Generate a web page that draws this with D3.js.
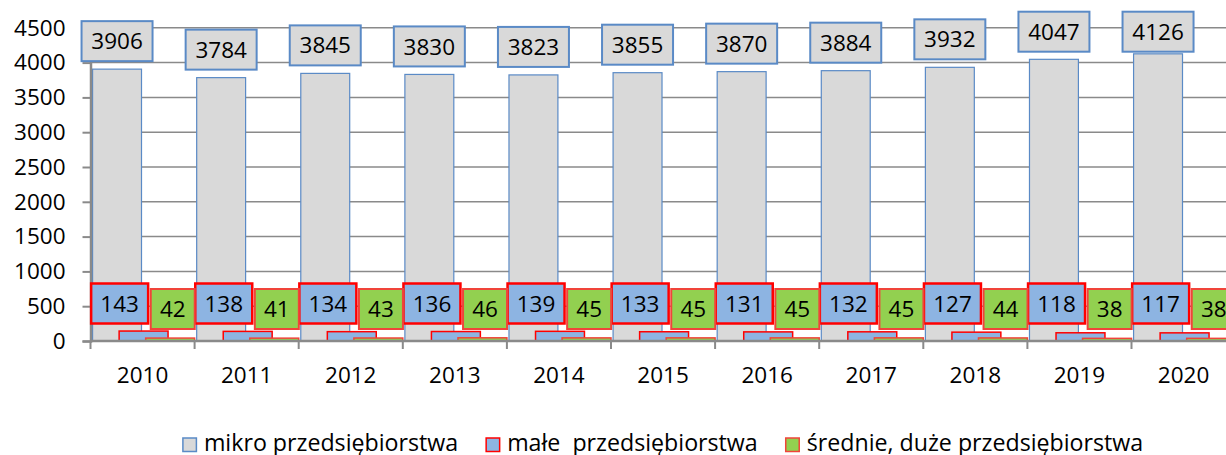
<!DOCTYPE html>
<html>
<head>
<meta charset="utf-8">
<script src="https://cdn.jsdelivr.net/npm/d3@7"></script>
<style>
  html, body { margin: 0; padding: 0; background: #fff; }
  svg { display: block; font-family: "Open Sans", "Noto Sans", sans-serif; }
</style>
</head>
<body>
<svg></svg>
<script>
// Chart size
const width = 1226;
const height = 455;

// Data
const years = ["2010", "2011", "2012", "2013", "2014", "2015", "2016", "2017", "2018", "2019", "2020"];
const mikro = [3906, 3784, 3845, 3830, 3823, 3855, 3870, 3884, 3932, 4047, 4126];
const male = [143, 138, 134, 136, 139, 133, 131, 132, 127, 118, 117];
const srednie = [42, 41, 43, 46, 45, 45, 45, 45, 44, 38, 38];
const seriesNames = ["mikro przedsiębiorstwa", "małe  przedsiębiorstwa", "średnie, duże przedsiębiorstwa"];
const yTicks = [0, 500, 1000, 1500, 2000, 2500, 3000, 3500, 4000, 4500];

// Colours
const fills = ["#d9d9d9", "#8db4e2", "#92d050"];
const strokes = ["#5a8ac6", "#ff0000", "#f0443a"];
const gridColor = "#8a8a8a";
const fontSize = 22.5;

const svg = d3.select("svg")
    .attr("width", width)
    .attr("height", height);

// Scales
const x = d3.scaleBand()
    .domain(years)
    .range([90.5, 90.5 + 104.1 * years.length])
    .padding(0);
const bw = x.bandwidth();

const y = d3.scaleLinear()
    .domain([0, 4500])
    .range([341, 27.8]);

// Bars are overlapping inside each category
const barW = bw * 0.47;
const barOffset = i => bw * (0.02 + i * 0.255);

// Grid lines
svg.append("g")
    .selectAll("line")
    .data(yTicks.filter(d => d > 0))
    .enter()
    .append("line")
    .attr("x1", x.range()[0])
    .attr("x2", width)
    .attr("y1", d => y(d))
    .attr("y2", d => y(d))
    .attr("stroke", gridColor)
    .attr("stroke-width", 1.5);

// Bars
const series = [mikro, male, srednie];
series.forEach((values, i) => {
    svg.append("g")
        .selectAll("rect")
        .data(values)
        .enter()
        .append("rect")
        .attr("x", (d, j) => x(years[j]) + barOffset(i))
        .attr("y", d => y(d))
        .attr("width", barW)
        .attr("height", d => y(0) - y(d))
        .attr("fill", fills[i])
        .attr("stroke", strokes[i])
        .attr("stroke-width", i === 0 ? 1.2 : 1.5);
});

// Y axis
const yAxis = svg.append("g")
    .attr("transform", `translate(${x.range()[0]},0)`)
    .call(d3.axisLeft(y).tickValues(yTicks).tickSize(8).tickPadding(17).tickFormat(d3.format("d")));
yAxis.select(".domain").attr("stroke", gridColor).attr("stroke-width", 2.5);
yAxis.selectAll(".tick line").attr("stroke", gridColor).attr("stroke-width", 2);
yAxis.selectAll(".tick text")
    .attr("fill", "#000")
    .style("font-size", fontSize + "px")
    .style("font-family", "Open Sans, Noto Sans, sans-serif");

// X axis: ticks between categories
const xAxis = svg.append("g");
xAxis.append("line")
    .attr("x1", x.range()[0])
    .attr("x2", width)
    .attr("y1", y(0))
    .attr("y2", y(0))
    .attr("stroke", gridColor)
    .attr("stroke-width", 2.5);
xAxis.selectAll(".xtick")
    .data(years.concat(["end"]))
    .enter()
    .append("line")
    .attr("x1", (d, j) => x.range()[0] + j * bw)
    .attr("x2", (d, j) => x.range()[0] + j * bw)
    .attr("y1", y(0))
    .attr("y2", y(0) + 8)
    .attr("stroke", gridColor)
    .attr("stroke-width", 2);
xAxis.selectAll("text")
    .data(years)
    .enter()
    .append("text")
    .attr("x", d => x(d) + bw / 2)
    .attr("y", 383)
    .attr("text-anchor", "middle")
    .style("font-size", fontSize + "px")
    .text(d => d);

// Value labels drawn as boxes
function addLabels(values, i, boxW, cx, boxTop) {
    const g = svg.append("g")
        .selectAll("g")
        .data(values)
        .enter()
        .append("g")
        .attr("transform", (d, j) => `translate(${cx(d, j)},${boxTop(d, j)})`);
    g.append("rect")
        .attr("x", -boxW / 2)
        .attr("y", 0)
        .attr("width", boxW)
        .attr("height", 40)
        .attr("fill", fills[i])
        .attr("stroke", strokes[i])
        .attr("stroke-width", i === 1 ? 2.5 : 2);
    g.append("text")
        .attr("x", 0)
        .attr("y", 20)
        .attr("dy", "0.36em")
        .attr("text-anchor", "middle")
        .style("font-size", fontSize + "px")
        .text(d => d);
}

// mikro: above the bar, clamped at the top of the chart
addLabels(mikro, 0, 71,
    (d, j) => x(years[j]) + barOffset(0) + barW / 2,
    d => Math.max(11.7, y(d) - 8 - 40));
// male: left part of the category
addLabels(male, 1, 57,
    (d, j) => x(years[j]) + bw * 0.28,
    () => 283.5);
// srednie: right part of the category
addLabels(srednie, 2, 44,
    (d, j) => x(years[j]) + bw * 0.79,
    () => 289);

// Legend
const legend = svg.append("g");
let lx = 0;
seriesNames.forEach((name, i) => {
    const item = legend.append("g").attr("transform", `translate(${lx},0)`);
    item.append("rect")
        .attr("x", 0)
        .attr("y", 438)
        .attr("width", 13.5)
        .attr("height", 13.5)
        .attr("fill", fills[i])
        .attr("stroke", strokes[i])
        .attr("stroke-width", 1.5);
    const t = item.append("text")
        .attr("x", 21)
        .attr("y", 450.5)
        .style("font-size", "23.2px")
        .style("white-space", "pre")
        .attr("xml:space", "preserve")
        .text(name);
    lx += 21 + t.node().getComputedTextLength() + 28;
});
const legendW = lx - 28;
const plotCenter = (x.range()[0] + x.range()[1]) / 2;
legend.attr("transform", `translate(${plotCenter - legendW / 2},0)`);
</script>
</body>
</html>
